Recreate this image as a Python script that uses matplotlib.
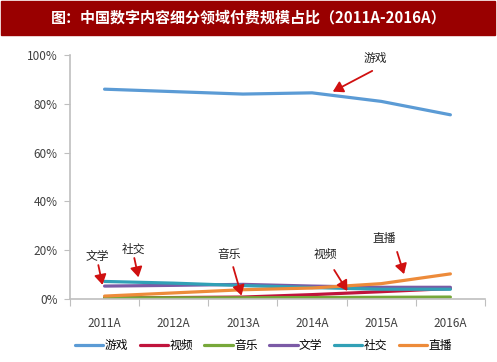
import numpy as np
import matplotlib.pyplot as plt
from matplotlib.patches import Rectangle

plt.rcParams['font.family'] = ['Noto Sans CJK SC', 'DejaVu Sans']

# data (% share)
years = ['2011A', '2012A', '2013A', '2014A', '2015A', '2016A']
games = [86, 85, 84, 84.5, 81, 75.5]
video = [0.5, 0.6, 0.8, 1.8, 3.0, 4.3]
music = [0.5, 0.5, 0.5, 0.6, 0.7, 0.8]
literature = [5.3, 5.6, 6.0, 5.3, 4.8, 4.8]
social = [7.2, 6.5, 5.5, 4.7, 4.0, 4.0]
live = [1.2, 2.5, 3.8, 4.5, 6.3, 10.3]

names = ['游戏', '视频', '音乐', '文学', '社交', '直播']
colors = ['#5B9BD5', '#C0143C', '#77A83A', '#7B5AA6', '#31A0B6', '#ED8B3A']
series = [games, video, music, literature, social, live]

# label text position, arrow tail, arrow head (data coords)
notes = [
    ('游戏', (3.91, 98.5), (3.87, 93.5), (3.30, 85.0)),
    ('文学', (-0.10, 17.5), (-0.09, 13.9), (-0.03, 5.8)),
    ('社交', (0.42, 20.5), (0.43, 16.8), (0.49, 8.9)),
    ('音乐', (1.80, 18.4), (1.86, 13.1), (1.98, 1.4)),
    ('视频', (3.19, 18.4), (3.32, 11.9), (3.51, 3.3)),
    ('直播', (4.05, 25.0), (4.23, 19.3), (4.33, 10.2)),
]

fig = plt.figure(figsize=(4.97, 3.62), dpi=100)
fig.patches.append(Rectangle((0.002, 0.902), 0.994, 0.096, transform=fig.transFigure,
                             color='#990000', zorder=0))
fig.text(0.5, 0.951, '图：中国数字内容细分领域付费规模占比（2011A-2016A）',
         color='white', fontsize=10.8, fontweight='bold', ha='center', va='center')

ax = fig.add_axes([0.1408, 0.174, 0.835, 0.674])
x = np.arange(len(years))
for vals, name, c in zip(series, names, colors):
    ax.plot(x, vals, color=c, lw=2.3, label=name, solid_capstyle='round')

for label, txt, tail, head in notes:
    ax.text(txt[0], txt[1], label, fontsize=8.5, color='#222222', ha='center', va='center')
    ax.annotate('', xy=head, xytext=tail,
                arrowprops=dict(arrowstyle='-|>,head_length=0.5,head_width=0.3',
                                color='#D01010', lw=1.3,
                                mutation_scale=12, shrinkA=0, shrinkB=0))

ax.set_xlim(-0.5, 5.5)
ax.set_ylim(0, 100)
ax.set_yticks(np.arange(0, 101, 20))
ax.set_yticklabels(['%d%%' % v for v in range(0, 101, 20)])
ax.set_xticks(np.arange(-0.5, 5.6, 1))
ax.set_xticklabels([])
ax.set_xticks(x, minor=True)
ax.set_xticklabels(years, minor=True)
ax.tick_params(axis='x', which='minor', length=0, pad=13, labelsize=8.5, labelcolor='#404040')
ax.tick_params(axis='x', which='major', length=5, color='#BFBFBF', direction='out')
ax.tick_params(axis='y', length=4, color='#BFBFBF', labelsize=8.5, labelcolor='#404040', pad=5)
for s in ['top', 'right']:
    ax.spines[s].set_visible(False)
for s in ['left', 'bottom']:
    ax.spines[s].set_color('#BFBFBF')
    ax.spines[s].set_linewidth(1.2)

fig.legend(loc='center', bbox_to_anchor=(0.53, 0.045), ncol=6, frameon=False,
           fontsize=8.5, handlelength=2.4, handletextpad=0.1, columnspacing=1.0)

fig.savefig('out.png', dpi=100)
